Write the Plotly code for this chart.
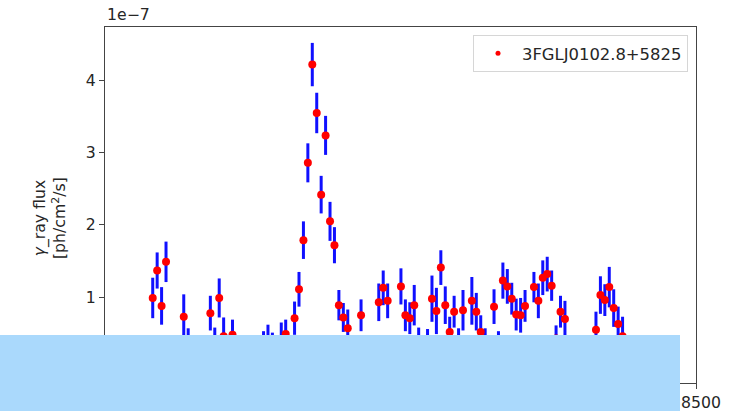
import plotly.graph_objects as go

# Time bins (MJD) and flux (units of 1e-7 ph/cm^2/s)
mjd = [54823, 54853, 54883, 54913, 54943, 54973, 55003, 55033, 55063, 55093,
       55123, 55153, 55183, 55213, 55243, 55273, 55303, 55333, 55363, 55393,
       55423, 55453, 55483, 55513, 55543, 55573, 55603, 55633, 55663, 55693,
       55723, 55753, 55783, 55813, 55843, 55873, 55903, 55933, 55963, 55993,
       56023, 56053, 56083, 56113, 56143, 56173, 56203, 56233, 56263, 56293,
       56323, 56353, 56383, 56413, 56443, 56473, 56503, 56533, 56563, 56593,
       56623, 56653, 56683, 56713, 56743, 56773, 56803, 56833, 56863, 56893,
       56923, 56953, 56983, 57013, 57043, 57073, 57103, 57133, 57163, 57193,
       57223, 57253, 57283, 57313, 57343, 57373, 57403, 57433, 57463, 57493,
       57523, 57553, 57583, 57613, 57643, 57673, 57703, 57733, 57763, 57793,
       57823, 57853, 57883, 57913, 57943, 57973, 58003]

flux = [0.99, 1.37, 0.88, 1.49, 0.20, 0.15, 0.25, 0.73, 0.33, 0.18,
        0.12, 0.22, 0.20, 0.78, 0.32, 0.99, 0.46, 0.25, 0.48, 0.15,
        0.10, 0.12, 0.18, 0.14, 0.20, 0.30, 0.36, 0.30, 0.22, 0.40,
        0.49, 0.25, 0.71, 1.11, 1.79, 2.86, 4.22, 3.55, 2.42, 3.24,
        2.05, 1.72, 0.89, 0.72, 0.57, 0.22, 0.20, 0.75, 0.24, 0.18,
        0.25, 0.93, 1.13, 0.95, 0.22, 0.20, 1.15, 0.75, 0.71, 0.89,
        0.32, 0.24, 0.30, 0.98, 0.81, 1.41, 0.89, 0.52, 0.80, 0.32,
        0.82, 0.25, 0.95, 0.80, 0.52, 0.32, 0.22, 0.87, 0.28, 1.23,
        1.15, 0.98, 0.76, 0.75, 0.88, 0.24, 1.14, 0.95, 1.27, 1.32,
        1.16, 0.43, 0.80, 0.70, 0.18, 0.12, 0.15, 0.20, 0.10, 0.22,
        0.55, 1.03, 0.96, 1.14, 0.85, 0.63, 0.46]

flux_err = [0.28, 0.25, 0.26, 0.28, 0.15, 0.14, 0.17, 0.31, 0.24, 0.15,
            0.13, 0.16, 0.15, 0.24, 0.26, 0.27, 0.26, 0.17, 0.21, 0.14,
            0.12, 0.13, 0.15, 0.14, 0.16, 0.23, 0.26, 0.21, 0.16, 0.25,
            0.20, 0.17, 0.23, 0.24, 0.26, 0.27, 0.30, 0.28, 0.26, 0.27,
            0.27, 0.25, 0.21, 0.20, 0.26, 0.16, 0.15, 0.22, 0.17, 0.15,
            0.17, 0.26, 0.24, 0.24, 0.16, 0.15, 0.25, 0.22, 0.22, 0.28,
            0.26, 0.17, 0.26, 0.32, 0.32, 0.24, 0.26, 0.21, 0.22, 0.25,
            0.28, 0.17, 0.33, 0.26, 0.23, 0.25, 0.16, 0.24, 0.25, 0.25,
            0.24, 0.22, 0.22, 0.24, 0.22, 0.17, 0.21, 0.24, 0.24, 0.24,
            0.21, 0.18, 0.22, 0.25, 0.15, 0.13, 0.14, 0.15, 0.12, 0.16,
            0.25, 0.26, 0.22, 0.28, 0.26, 0.24, 0.27]

x_ticks = [54500, 55000, 55500, 56000, 56500, 57000, 57500, 58000, 58500]
y_ticks = [0, 1, 2, 3, 4]
source_name = "3FGLJ0102.8+5825"

W, H = 734, 411
L, R, T, B = 105, 696, 27, 383

def px(xp):
    return (xp - L) / (R - L)

def py(yp):
    return (B - yp) / (B - T)

fig = go.Figure()
fig.add_trace(go.Scatter(
    x=mjd, y=flux, mode="markers",
    marker=dict(color="#ff0000", size=8),
    error_y=dict(type="data", array=flux_err, color="#1010ff", thickness=3, width=0),
    showlegend=False,
))
fig.add_trace(go.Scatter(
    x=[None], y=[None], mode="markers", name=source_name,
    marker=dict(color="#ff0000", size=5),
))

axis_style = dict(showline=True, linecolor="#444", linewidth=1.3, mirror=True,
                  ticks="outside", ticklen=5, tickwidth=1.2, tickcolor="#444",
                  showgrid=False, zeroline=False, automargin=False,
                  tickfont=dict(family="DejaVu Sans", size=15.7, color="#262626"))

fig.update_xaxes(range=[54500, 58500], tickvals=x_ticks,
                 ticktext=[str(v) for v in x_ticks], **axis_style)
fig.update_yaxes(range=[-0.187, 4.74], tickvals=y_ticks,
                 ticktext=[str(v) for v in y_ticks], **axis_style)

fig.update_layout(
    width=W, height=H,
    margin=dict(l=L, r=W - R, t=T, b=H - B, autoexpand=False),
    paper_bgcolor="white", plot_bgcolor="white",
    font=dict(family="DejaVu Sans", color="#262626"),
    legend=dict(x=px(688), y=py(35), xanchor="right", yanchor="top",
                itemwidth=38,
                bgcolor="rgba(255,255,255,0.8)", bordercolor="#d6d6d6", borderwidth=1,
                font=dict(size=16.4, family="DejaVu Sans", color="#262626")),
    annotations=[
        dict(text="1e\u22127", xref="paper", yref="paper", x=px(105), y=py(15),
             xanchor="left", yanchor="middle", showarrow=False,
             font=dict(size=15.7, family="DejaVu Sans", color="#262626")),
        dict(text="<i>\u03b3</i>_ray flux<br>[ph/cm<sup>2</sup>/s]", xref="paper", yref="paper",
             x=px(50), y=py(218), xanchor="center", yanchor="middle", textangle=-90,
             showarrow=False, font=dict(size=15.7, family="DejaVu Sans", color="#262626")),
    ],
    shapes=[
        dict(type="rect", xref="paper", yref="paper", x0=px(0), x1=px(680),
             y0=py(411), y1=py(335), fillcolor="#aad9fc", line=dict(width=0),
             layer="above"),
    ],
)

fig.write_html("out.html")
